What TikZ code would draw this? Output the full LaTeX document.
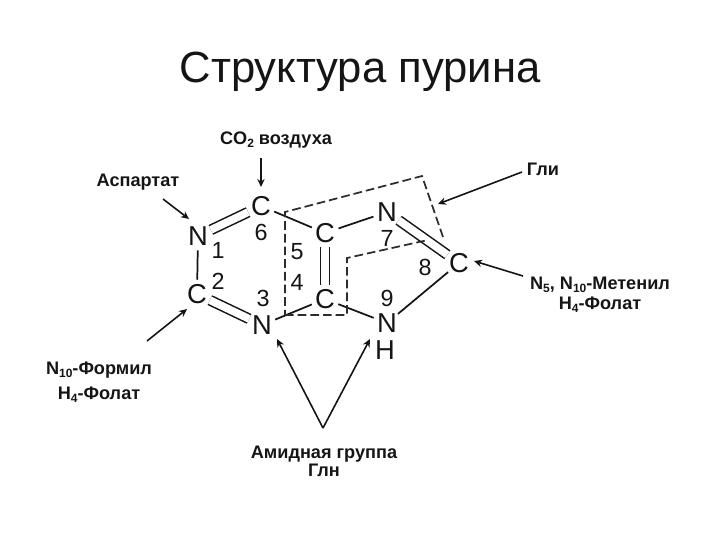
\documentclass[tikz,border=0pt]{standalone}
\usepackage{fontspec}
\setmainfont{Liberation Sans}
\usetikzlibrary{arrows.meta}
\definecolor{ink}{HTML}{151515}
\newcommand\sbs[1]{\raisebox{-.3ex}{\fontsize{9}{9}\selectfont #1}}
\tikzset{
  atom/.style={circle,inner sep=0pt,minimum size=21pt,text=ink,font=\fontsize{20.5}{21}\selectfont},
  num/.style={inner sep=0pt,text=ink,font=\fontsize{17.5}{18}\selectfont},
  lab/.style={inner sep=0pt,align=center,text=ink,font=\fontsize{13.6}{#1}\selectfont\bfseries},
  lab/.default=15,
  bond/.style={draw=ink,line width=1.3pt},
  dbond/.style={double=white,draw=ink,line width=1.15pt,double distance=5.8pt},
  dashline/.style={draw=ink!90,line width=1.3pt,dash pattern=on 6.5pt off 3pt},
  feed/.style={draw=ink,line width=1.2pt,-{Stealth[length=6pt,width=5.5pt]}},
}
\begin{document}
\begin{tikzpicture}[x=.75pt,y=-.75pt]
\useasboundingbox (0,0) rectangle (720,540);
\node[inner sep=0pt,text=ink,font=\fontsize{32.7}{34}\selectfont] (title) at (360,72) {Структура пурина};
% atoms
\node[atom] (c6) at (261,206) {C};
\node[atom] (n1) at (198,236) {N};
\node[atom] (c2) at (197,294) {C};
\node[atom] (n3) at (262,325) {N};
\node[atom] (c5) at (325,233) {C};
\node[atom] (c4) at (325,299) {C};
\node[atom] (n7) at (387,212) {N};
\node[atom] (c8) at (459,263) {C};
\node[atom] (n9) at (387,323) {N};
\node[atom] (h9) at (385,350) {H};
% ring numbers
\node[num] (k6) at (261,232) {6};
\node[num] (k1) at (218,250) {1};
\node[num] (k2) at (218,281) {2};
\node[num] (k3) at (263,298) {3};
\node[num] (k5) at (297,252) {5};
\node[num] (k4) at (297,282) {4};
\node[num] (k7) at (387,238) {7};
\node[num] (k8) at (425,267) {8};
\node[num] (k9) at (387,298) {9};
% labels
\node[lab] (lco) at (276,140) {CO\sbs{2} воздуха};
\node[lab] (lasp) at (138,182) {Аспартат};
\node[lab] (lgly) at (543,169) {Гли};
\node[lab=15] (lmet) at (600,295) {N\sbs{5}, N\sbs{10}-Метенил\\H\sbs{4}-Фолат};
\node[lab=18.5] (lfor) at (99,382) {N\sbs{10}-Формил\\H\sbs{4}-Фолат};
\node[lab=13.5] (lam) at (324,461) {Амидная группа\\Глн};
% bonds
\draw[dbond] (c6) -- (n1);
\draw[dbond] (c2) -- (n3);
\draw[dbond] (c5) -- (c4);
\draw[dbond] (n7) -- (c8);
\draw[bond] (n1) -- (c2);
\draw[bond] (c6) -- (c5);
\draw[bond] (c5) -- (n7);
\draw[bond] (c4) -- (n3);
\draw[bond] (c4) -- (n9);
\draw[bond] (n9) -- (c8);
% dashed outline of the glycine fragment
\coordinate (d1) at (285,212);
\coordinate (d2) at (422,176);
\coordinate (d3) at (443,237);
\coordinate (d4) at (285,315);
\coordinate (d5) at (347,315);
\coordinate (d6) at (347,258);
\coordinate (d7) at (428,240);
\draw[dashline] (d3) -- (d2) -- (d1) -- (d4);
\draw[dashline] (d4) -- (d5) -- (d6) -- (d7);
% feeds
\coordinate (fco) at (261,158);
\coordinate (fcoe) at (261,187);
\coordinate (fas) at (163,199);
\coordinate (fase) at (189,219);
\coordinate (fgl) at (522,172);
\coordinate (fgle) at (438,204);
\coordinate (fme) at (523,276);
\coordinate (fmee) at (474,261);
\coordinate (ffo) at (147,341);
\coordinate (ffoe) at (187,309);
\coordinate (va) at (323,428);
\coordinate (vl) at (277,339);
\coordinate (vr) at (370,339);
\draw[feed] (fco) -- (fcoe);
\draw[feed] (fas) -- (fase);
\draw[feed] (fgl) -- (fgle);
\draw[feed] (fme) -- (fmee);
\draw[feed] (ffo) -- (ffoe);
\draw[feed] (va) -- (vl);
\draw[feed] (va) -- (vr);
\end{tikzpicture}
\end{document}
